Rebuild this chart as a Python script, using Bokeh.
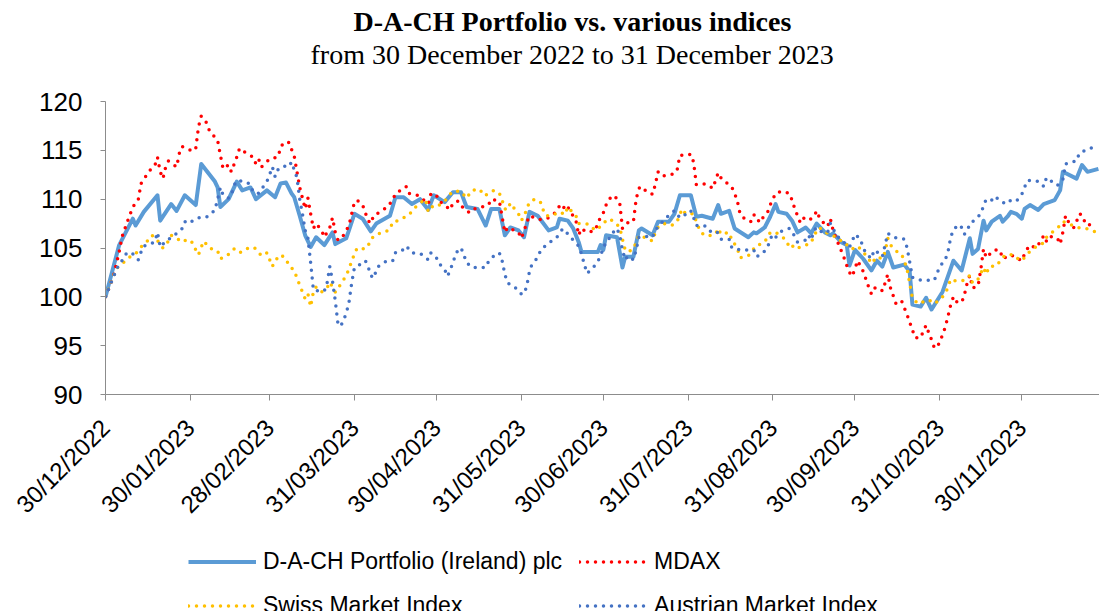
import math
import pandas as pd
from bokeh.plotting import figure
from bokeh.layouts import column
from bokeh.models import (Range1d, FixedTicker, DatetimeTickFormatter, Title,
                          Legend, LegendItem, ColumnDataSource)
from bokeh.embed import file_html
from bokeh.resources import INLINE

# ---------------- data (values indexed to 100 on 30/12/2022) ----------------
start_date = "2022-12-30"
title_text = "D-A-CH Portfolio vs. various indices"
subtitle_text = "from 30 December 2022 to 31 December 2023"
tick_dates = ["2022-12-30", "2023-01-30", "2023-02-28", "2023-03-31", "2023-04-30",
              "2023-05-31", "2023-06-30", "2023-07-31", "2023-08-31", "2023-09-30",
              "2023-10-31", "2023-11-30"]
y_ticks = [90, 95, 100, 105, 110, 115, 120]

# days elapsed since 30/12/2022
portfolio_days = [0, 5, 10, 11, 14, 19, 20, 24, 26, 29,
                  33, 35, 40, 41, 42, 45, 48, 50, 53, 55,
                  59, 62, 64, 66, 68, 69, 71, 73, 75, 77,
                  80, 83, 84, 88, 89, 91, 94, 97, 99, 104,
                  106, 109, 112, 115, 118, 120, 124, 127, 130, 132,
                  136, 139, 141, 144, 146, 148, 151, 153, 155, 158,
                  162, 165, 166, 169, 171, 173, 174, 180, 181, 182,
                  183, 187, 189, 190, 193, 195, 196, 200, 202, 206,
                  208, 210, 214, 216, 218, 222, 224, 225, 228, 230,
                  235, 237, 238, 241, 243, 245, 246, 249, 251, 253,
                  256, 258, 260, 263, 265, 266, 269, 271, 272, 274,
                  277, 280, 282, 284, 286, 288, 292, 294, 295, 298,
                  300, 302, 306, 310, 313, 316, 317, 319, 321, 322,
                  324, 327, 328, 330, 331, 333, 335, 336, 338, 341,
                  343, 347, 349, 350, 355, 357, 359, 363]
portfolio_vals = [100.0, 105.3, 108.0, 107.3, 108.7, 110.4, 107.8, 109.5, 108.8, 110.4,
                  109.4, 113.6, 111.8, 111.2, 109.2, 110.0, 111.8, 110.9, 111.2, 110.0,
                  110.9, 110.2, 111.6, 111.7, 110.6, 110.2, 108.3, 106.3, 105.1, 106.1,
                  105.3, 106.6, 105.4, 106.0, 106.8, 108.5, 108.0, 106.7, 107.5, 108.3,
                  110.2, 110.2, 109.5, 110.0, 108.9, 110.4, 109.7, 110.7, 110.7, 109.2,
                  109.0, 107.3, 109.0, 109.0, 106.3, 107.1, 106.8, 106.1, 108.7, 108.3,
                  106.8, 107.1, 108.0, 107.8, 107.0, 105.6, 104.6, 104.6, 105.3, 104.8,
                  106.3, 106.1, 103.0, 104.1, 104.1, 106.8, 107.0, 106.3, 107.7, 107.7,
                  108.5, 110.4, 110.4, 108.2, 108.3, 108.0, 109.4, 108.5, 108.8, 107.0,
                  106.1, 106.6, 106.5, 107.1, 108.2, 109.5, 108.7, 108.5, 107.8, 106.6,
                  107.1, 106.5, 107.5, 106.6, 106.3, 106.5, 105.6, 105.3, 103.2, 104.8,
                  103.9, 102.7, 103.7, 103.1, 104.6, 103.0, 103.3, 102.6, 99.2, 99.0,
                  99.9, 98.7, 100.5, 103.7, 102.7, 106.0, 104.4, 104.9, 107.8, 106.8,
                  107.7, 108.3, 107.7, 108.3, 108.7, 108.5, 108.0, 109.0, 109.4, 108.9,
                  109.5, 109.9, 110.9, 112.8, 112.1, 113.5, 112.8, 113.1]

mdax_days = [0, 1, 3, 5, 6, 8, 10, 12, 13, 16,
             18, 19, 20, 21, 22, 23, 26, 27, 28, 32,
             33, 34, 35, 37, 38, 41, 42, 43, 45, 46,
             48, 49, 51, 54, 55, 56, 57, 60, 63, 64,
             65, 67, 68, 69, 70, 71, 73, 74, 75, 76,
             77, 79, 80, 82, 83, 84, 85, 87, 89, 91,
             92, 94, 96, 97, 98, 101, 103, 105, 106, 108,
             110, 111, 114, 116, 118, 119, 121, 122, 124, 126,
             127, 129, 130, 132, 133, 135, 140, 141, 144, 145,
             146, 147, 151, 152, 153, 154, 155, 159, 162, 164,
             166, 167, 168, 169, 172, 173, 174, 176, 179, 180,
             181, 182, 183, 184, 186, 188, 189, 191, 193, 194,
             195, 196, 198, 200, 201, 202, 203, 205, 208, 209,
             210, 212, 214, 215, 216, 218, 220, 222, 223, 224,
             225, 227, 229, 230, 231, 232, 234, 236, 237, 238,
             239, 240, 242, 243, 245, 247, 250, 251, 252, 253,
             254, 255, 257, 259, 260, 261, 263, 264, 265, 266,
             267, 268, 269, 270, 271, 272, 273, 274, 275, 277,
             278, 279, 280, 281, 283, 284, 285, 286, 287, 288,
             289, 291, 292, 293, 294, 295, 296, 298, 299, 300,
             301, 302, 303, 304, 305, 306, 307, 308, 309, 310,
             311, 313, 314, 315, 316, 317, 319, 320, 321, 322,
             323, 325, 327, 328, 331, 333, 335, 336, 337, 338,
             340, 342, 343, 344, 345, 348, 349, 350, 351, 352,
             354, 355, 356, 357, 358, 359, 362]
mdax_vals = [100.0, 100.7, 102.2, 104.6, 106.1, 107.7, 109.2, 110.0, 111.6, 112.9,
             113.4, 114.3, 112.8, 112.1, 113.3, 113.9, 113.3, 114.7, 115.4, 114.9,
             115.2, 117.4, 118.5, 117.8, 117.0, 116.0, 114.5, 113.1, 113.5, 112.8,
             114.3, 115.2, 114.8, 114.3, 113.6, 114.1, 113.3, 114.1, 114.3, 115.2,
             115.8, 115.8, 115.1, 114.4, 112.8, 111.2, 109.0, 110.1, 108.5, 107.0,
             107.5, 106.8, 106.1, 107.1, 108.1, 106.6, 105.8, 106.3, 107.3, 109.7,
             109.9, 109.4, 107.8, 107.5, 108.3, 108.8, 109.2, 109.9, 110.6, 110.9,
             111.3, 110.6, 110.4, 110.0, 109.5, 110.6, 110.4, 109.8, 109.4, 108.9,
             109.6, 109.8, 109.3, 108.9, 108.6, 109.0, 109.4, 110.0, 109.8, 108.2,
             106.6, 107.1, 106.6, 106.0, 106.7, 107.6, 108.3, 107.9, 108.1, 108.5,
             109.3, 109.5, 108.9, 109.2, 107.8, 106.3, 107.0, 106.6, 106.8, 107.5,
             108.2, 108.6, 109.4, 110.0, 110.4, 109.6, 107.0, 107.6, 107.7, 110.0,
             111.1, 111.3, 110.7, 110.5, 111.5, 112.8, 112.4, 112.4, 112.6, 113.0,
             114.5, 114.5, 114.6, 113.8, 111.5, 111.6, 111.5, 111.1, 111.9, 112.7,
             112.2, 111.7, 111.2, 110.6, 109.8, 108.5, 107.9, 107.7, 108.4, 108.3,
             107.6, 108.0, 108.6, 109.4, 110.6, 110.8, 110.6, 109.9, 109.0, 108.3,
             107.6, 108.1, 107.8, 108.2, 108.8, 108.1, 107.4, 107.2, 108.0, 106.8,
             106.0, 105.4, 104.7, 104.0, 103.2, 102.5, 102.1, 102.9, 103.7, 102.6,
             101.8, 101.0, 100.3, 100.9, 100.9, 100.6, 101.4, 102.3, 100.9, 100.1,
             99.3, 99.6, 98.9, 98.2, 97.4, 96.6, 95.8, 95.8, 96.5, 97.1,
             96.3, 95.6, 94.8, 94.8, 95.4, 96.1, 96.9, 98.0, 99.2, 100.0,
             99.5, 99.4, 100.2, 101.4, 102.2, 100.9, 101.1, 102.8, 104.9, 104.0,
             104.3, 104.8, 104.8, 103.9, 104.3, 104.0, 103.7, 104.4, 104.9, 105.3,
             105.0, 105.7, 106.3, 105.7, 106.2, 106.0, 105.4, 106.6, 108.3, 107.7,
             107.1, 107.7, 108.5, 108.4, 107.7, 107.3, 107.6]

smi_days = [0, 4, 6, 7, 9, 11, 13, 15, 17, 18,
            20, 21, 23, 24, 26, 28, 30, 32, 33, 34,
            35, 36, 38, 40, 41, 42, 44, 46, 47, 49,
            51, 54, 55, 57, 59, 60, 61, 62, 64, 66,
            67, 69, 70, 71, 72, 73, 74, 75, 76, 77,
            79, 81, 82, 84, 85, 86, 88, 89, 90, 91,
            92, 95, 96, 97, 99, 102, 104, 105, 107, 109,
            111, 113, 115, 117, 118, 120, 122, 124, 125, 127,
            130, 132, 134, 137, 138, 140, 142, 144, 145, 146,
            147, 148, 149, 151, 152, 153, 154, 155, 157, 159,
            160, 161, 163, 166, 168, 169, 170, 172, 173, 175,
            177, 179, 181, 183, 184, 186, 188, 189, 190, 191,
            193, 194, 195, 197, 200, 201, 202, 204, 207, 209,
            210, 211, 212, 215, 216, 217, 218, 220, 223, 224,
            225, 228, 229, 231, 232, 235, 238, 240, 242, 243,
            245, 247, 249, 250, 252, 253, 256, 258, 259, 261,
            263, 264, 266, 268, 270, 272, 273, 275, 277, 279,
            280, 282, 284, 285, 286, 287, 289, 291, 292, 293,
            294, 295, 297, 299, 301, 303, 305, 307, 308, 309,
            311, 314, 316, 317, 319, 320, 321, 322, 323, 326,
            327, 329, 332, 334, 335, 337, 339, 341, 343, 344,
            346, 348, 350, 352, 355, 358, 360, 363]
smi_vals = [100.0, 102.9, 103.4, 103.6, 104.1, 104.4, 105.1, 105.6, 106.3, 106.1,
            105.4, 105.0, 105.7, 106.3, 106.0, 105.6, 105.9, 105.5, 104.8, 104.3,
            105.1, 105.7, 105.0, 104.8, 104.7, 103.9, 104.1, 104.6, 104.9, 104.5,
            104.9, 105.1, 104.9, 104.2, 104.5, 103.8, 103.1, 103.7, 104.3, 103.9,
            103.2, 102.7, 101.9, 101.2, 100.5, 99.8, 100.3, 99.0, 100.5, 101.0,
            100.5, 100.9, 101.5, 100.5, 100.7, 101.4, 102.1, 102.9, 103.6, 104.4,
            105.0, 104.9, 105.2, 105.9, 106.4, 106.6, 106.9, 107.7, 107.8, 108.1,
            108.4, 109.1, 109.6, 110.0, 108.7, 109.4, 109.4, 109.8, 110.2, 110.8,
            110.8, 110.1, 110.9, 111.0, 110.4, 110.5, 110.9, 110.6, 109.9, 109.0,
            108.9, 109.6, 109.2, 108.5, 107.8, 108.2, 109.0, 109.7, 110.0, 109.7,
            108.9, 108.3, 108.3, 108.7, 108.4, 109.2, 108.9, 108.3, 107.5, 107.5,
            107.4, 106.8, 107.2, 107.8, 108.0, 107.7, 107.1, 105.9, 104.8, 104.6,
            104.9, 105.6, 106.3, 106.1, 105.7, 106.6, 107.1, 107.5, 107.3, 107.7,
            108.5, 109.0, 108.5, 108.5, 107.7, 107.0, 106.5, 106.2, 106.4, 107.0,
            106.4, 106.6, 105.8, 105.0, 104.0, 104.2, 105.3, 105.4, 106.0, 106.6,
            106.6, 106.2, 105.8, 105.0, 105.3, 105.0, 105.3, 105.5, 106.3, 107.1,
            106.6, 106.5, 106.3, 105.8, 105.7, 105.0, 104.9, 105.2, 104.6, 103.9,
            103.4, 104.1, 103.9, 104.6, 106.0, 105.3, 104.7, 104.4, 103.7, 102.9,
            101.4, 99.9, 99.3, 99.5, 99.7, 99.3, 99.7, 100.3, 101.0, 101.8,
            101.6, 101.7, 102.2, 101.4, 101.8, 102.4, 103.0, 102.3, 103.1, 103.2,
            103.7, 104.3, 104.3, 103.8, 103.7, 104.4, 104.9, 105.3, 105.5, 106.1,
            106.6, 107.0, 107.7, 107.5, 107.1, 107.0, 106.9, 106.5]

atx_days = [0, 3, 5, 6, 7, 9, 11, 12, 13, 14,
            16, 18, 19, 20, 21, 24, 26, 28, 29, 30,
            32, 34, 36, 38, 40, 41, 42, 43, 45, 46,
            47, 48, 51, 53, 54, 56, 57, 59, 60, 61,
            62, 63, 65, 67, 68, 69, 70, 71, 72, 73,
            74, 75, 76, 78, 80, 81, 82, 83, 84, 85,
            86, 87, 88, 89, 90, 91, 93, 95, 96, 97,
            98, 99, 100, 103, 105, 106, 108, 110, 112, 114,
            116, 118, 119, 121, 122, 124, 125, 126, 127, 128,
            129, 130, 131, 132, 134, 136, 139, 140, 142, 144,
            145, 146, 147, 148, 150, 152, 153, 154, 155, 156,
            158, 159, 161, 163, 165, 167, 168, 169, 171, 173,
            174, 175, 176, 178, 180, 181, 182, 183, 185, 186,
            187, 188, 189, 190, 191, 193, 194, 195, 197, 200,
            201, 203, 205, 207, 208, 209, 211, 213, 214, 215,
            216, 217, 219, 221, 223, 224, 225, 228, 229, 232,
            235, 237, 238, 240, 242, 243, 244, 245, 247, 250,
            252, 253, 256, 257, 258, 259, 260, 262, 264, 265,
            266, 267, 269, 272, 273, 274, 276, 277, 278, 280,
            281, 283, 284, 285, 286, 288, 290, 292, 293, 294,
            295, 298, 300, 303, 304, 305, 307, 308, 309, 310,
            312, 313, 314, 315, 316, 318, 320, 321, 322, 324,
            325, 327, 329, 331, 333, 335, 336, 337, 340, 342,
            343, 344, 346, 348, 350, 351, 353, 355, 356, 359,
            361, 363]
atx_vals = [100.0, 102.1, 103.4, 103.7, 104.3, 104.6, 104.2, 103.8, 104.6, 105.2,
            105.4, 105.6, 106.6, 105.1, 105.4, 106.1, 106.5, 107.0, 107.7, 107.5,
            107.8, 108.1, 108.1, 108.3, 108.9, 110.0, 111.2, 110.4, 110.1, 110.4,
            111.4, 111.9, 111.8, 111.5, 110.7, 110.6, 111.0, 111.8, 112.5, 113.3,
            112.3, 113.0, 113.4, 113.3, 113.8, 113.0, 112.2, 110.0, 108.5, 106.8,
            106.0, 103.5, 100.7, 100.6, 100.6, 101.4, 103.1, 101.6, 99.6, 97.2,
            97.0, 97.6, 98.3, 99.4, 101.4, 103.0, 103.3, 103.7, 103.1, 102.2,
            101.9, 102.7, 103.2, 103.7, 103.7, 104.5, 104.6, 105.2, 104.5, 104.5,
            104.3, 103.8, 104.5, 104.0, 103.4, 102.8, 102.1, 102.7, 103.5, 104.3,
            104.9, 105.0, 104.3, 103.5, 103.0, 103.0, 103.0, 103.6, 104.2, 104.5,
            103.7, 102.3, 101.4, 101.3, 100.9, 100.3, 100.3, 101.1, 102.6, 103.4,
            104.0, 104.7, 105.3, 105.7, 106.1, 106.9, 106.9, 106.4, 105.8, 105.2,
            104.4, 103.4, 102.4, 102.9, 103.6, 104.3, 104.9, 105.7, 106.2, 106.8,
            107.0, 106.3, 104.8, 103.8, 104.2, 103.8, 104.8, 106.1, 106.2, 106.1,
            106.8, 107.5, 108.1, 108.6, 108.8, 108.3, 108.1, 108.8, 108.8, 108.1,
            107.3, 107.3, 107.3, 106.7, 106.8, 106.5, 105.9, 105.9, 105.0, 104.8,
            104.8, 104.8, 104.1, 104.4, 105.0, 105.9, 106.4, 106.1, 106.7, 107.0,
            106.2, 105.6, 105.8, 106.3, 105.8, 106.8, 107.1, 106.6, 106.6, 107.5,
            107.0, 106.4, 105.8, 105.1, 105.7, 106.4, 105.9, 105.0, 104.5, 103.9,
            104.8, 104.4, 104.1, 105.3, 106.5, 106.1, 106.0, 105.9, 105.1, 103.6,
            102.0, 101.7, 101.7, 101.7, 102.4, 103.1, 103.8, 104.6, 106.1, 106.9,
            107.4, 107.1, 106.4, 106.7, 107.5, 107.9, 108.5, 109.3, 110.0, 109.9,
            110.3, 109.9, 109.5, 109.9, 109.8, 110.5, 111.2, 111.9, 111.9, 111.7,
            111.3, 112.2, 111.8, 111.4, 112.0, 113.6, 113.8, 113.9, 114.7, 115.1,
            115.3, 115.0]

series = [
    ("D-A-CH Portfolio (Ireland) plc", portfolio_days, portfolio_vals),
    ("MDAX", mdax_days, mdax_vals),
    ("Swiss Market Index", smi_days, smi_vals),
    ("Austrian Market Index", atx_days, atx_vals),
]
for name, d, v in series:
    assert len(d) == len(v), (name, len(d), len(v))

# ---------------- styling ----------------
styles = {
    "D-A-CH Portfolio (Ireland) plc": dict(line_color="#5B9BD5", line_width=4, line_join="round"),
    "MDAX": dict(line_color="#FF0000", line_width=3.5, line_dash="0 8", line_cap="round"),
    "Swiss Market Index": dict(line_color="#FFC000", line_width=3.5, line_dash="0 8", line_cap="round"),
    "Austrian Market Index": dict(line_color="#4472C4", line_width=3.5, line_dash="0 8", line_cap="round"),
}

t0 = pd.Timestamp(start_date)
def to_dt(days):
    return [t0 + pd.Timedelta(days=float(x)) for x in days]

def ms(ts):
    return pd.Timestamp(ts).value / 1e6

W = 1099
MAIN_H = 530
LEG_H = 81
FRAME_DAYS = 363.4

p = figure(width=W, height=MAIN_H, output_backend="svg", toolbar_location=None,
           title=None, x_axis_type="datetime",
           x_range=Range1d(t0, t0 + pd.Timedelta(days=FRAME_DAYS)),
           y_range=Range1d(90, 120),
           min_border_left=105, min_border_right=0, min_border_top=101,
           min_border_bottom=MAIN_H - 395,
           background_fill_color="white", border_fill_color="white")
p.outline_line_color = None
p.xgrid.visible = False
p.ygrid.visible = False

axis_color = "#8c8c8c"
label_font = "Liberation Sans"

xa = p.xaxis[0]
xa.ticker = FixedTicker(ticks=[ms(t) for t in tick_dates])
xa.formatter = DatetimeTickFormatter(
    milliseconds="%d/%m/%Y", seconds="%d/%m/%Y", minsec="%d/%m/%Y", minutes="%d/%m/%Y",
    hourmin="%d/%m/%Y", hours="%d/%m/%Y", days="%d/%m/%Y", months="%d/%m/%Y", years="%d/%m/%Y")
xa.major_label_orientation = math.pi / 4
xa.axis_line_color = axis_color
xa.major_tick_line_color = axis_color
xa.major_tick_out = 6
xa.major_tick_in = 0
xa.minor_tick_line_color = None
xa.major_label_standoff = 23
xa.major_label_text_font = label_font
xa.major_label_text_font_size = "24px"
xa.major_label_text_color = "black"

ya = p.yaxis[0]
ya.ticker = FixedTicker(ticks=y_ticks)
ya.axis_line_color = axis_color
ya.major_tick_line_color = axis_color
ya.major_tick_out = 5
ya.major_tick_in = 0
ya.minor_tick_line_color = None
ya.major_label_standoff = 18
ya.major_label_text_font = label_font
ya.major_label_text_font_size = "26px"
ya.major_label_text_color = "black"

sources = []
for name, d, v in series:
    src = ColumnDataSource(dict(x=to_dt(d), y=v))
    sources.append(src)
    p.line("x", "y", source=src, **styles[name])

serif = "Liberation Serif"
spacer = Title(text=" ", text_font_size="10px", standoff=19)
sub = Title(text=subtitle_text, align="left", offset=205, vertical_align="bottom",
            text_font=serif, text_font_size="28px", text_font_style="normal",
            text_color="black", standoff=0)
main = Title(text=title_text, align="left", offset=248, vertical_align="bottom",
             text_font=serif, text_font_size="28px", text_font_style="bold",
             text_color="black", standoff=0)
p.add_layout(spacer, "above")
p.add_layout(sub, "above")
p.add_layout(main, "above")

# ---------------- legend strip below the chart ----------------
# same series drawn again (outside this strip's visible range) so the legend has its glyphs
pl = figure(width=W, height=LEG_H, output_backend="svg", toolbar_location=None,
            title=None, x_axis_type=None, y_axis_type=None,
            x_range=Range1d(0, 1), y_range=Range1d(0, 1),
            min_border_left=0, min_border_right=0, min_border_top=0, min_border_bottom=0,
            background_fill_color="white", border_fill_color="white")
pl.outline_line_color = None
pl.xgrid.visible = False
pl.ygrid.visible = False
items = []
for (name, d, v), src in zip(series, sources):
    r = pl.line("x", "y", source=src, **styles[name])
    items.append(LegendItem(label=name, renderers=[r]))
legend = Legend(items=items, ncols=2, orientation="horizontal",
                location=(83, -8), glyph_width=68, glyph_height=25, label_height=25,
                label_standoff=7, spacing=17, padding=0, margin=0,
                label_text_font=label_font, label_text_font_size="23px",
                label_text_color="black", border_line_alpha=0, background_fill_alpha=0)
pl.add_layout(legend, "center")

layout = column(p, pl, spacing=0)
open("out.html", "w").write(file_html(layout, INLINE))
